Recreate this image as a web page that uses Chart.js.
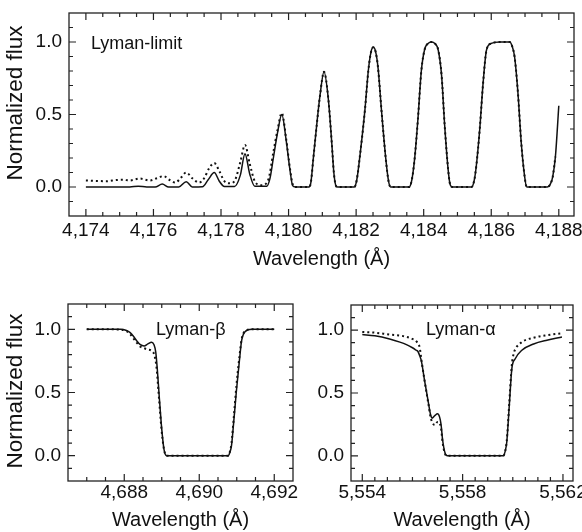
<!DOCTYPE html>
<html>
<head>
<meta charset="utf-8">
<script src="https://cdn.jsdelivr.net/npm/chart.js@4.4.0/dist/chart.umd.min.js"></script>
<style>
  body { margin: 0; background: #fff; }
  #wrap { position: relative; width: 582px; height: 532px; overflow: hidden; }
  canvas { position: absolute; }
</style>
</head>
<body>
<div id="wrap">
  <canvas id="top" width="582" height="280" style="left:0;top:0"></canvas>
  <canvas id="beta" width="300" height="252" style="left:0;top:280px"></canvas>
  <canvas id="alpha" width="282" height="252" style="left:300px;top:280px"></canvas>
</div>
<script>
// Lyman-limit panel, solid curve
let limitWaveSolid = [4174.0, 4174.5, 4175.0, 4175.3, 4175.55, 4175.8, 4176.05, 4176.26, 4176.45, 4176.75,
    4176.97, 4177.15, 4177.45, 4177.62, 4177.8, 4177.95, 4178.1, 4178.4, 4178.57, 4178.71,
    4178.85, 4179.0, 4179.35, 4179.45, 4179.55, 4179.67, 4179.8, 4179.93, 4180.04, 4180.12,
    4180.2, 4180.6, 4180.66, 4180.73, 4180.83, 4180.93, 4181.05, 4181.18, 4181.28, 4181.34,
    4181.4, 4181.45, 4181.95, 4182.02, 4182.11, 4182.26, 4182.36, 4182.44, 4182.51, 4182.58,
    4182.65, 4182.75, 4182.88, 4182.96, 4183.02, 4183.57, 4183.65, 4183.73, 4183.83, 4183.93,
    4184.03, 4184.13, 4184.23, 4184.33, 4184.43, 4184.53, 4184.62, 4184.72, 4184.78, 4184.85,
    4185.42, 4185.5, 4185.56, 4185.66, 4185.76, 4185.86, 4186.0, 4186.25, 4186.55, 4186.62,
    4186.69, 4186.79, 4186.89, 4186.99, 4187.05, 4187.66, 4187.75, 4187.82, 4187.9, 4188.0];
let limitFluxSolid = [0, 0, 0, 0, 0.006, 0, 0, 0.02, 0, 0,
    0.037, 0, 0.002, 0.05, 0.1, 0.04, 0.003, 0.003, 0.08, 0.23,
    0.09, 0.005, 0.005, 0.06, 0.2, 0.37, 0.5, 0.32, 0.12, 0.01,
    0, 0, 0.03, 0.19, 0.42, 0.63, 0.795, 0.6, 0.3, 0.1,
    0.01, 0, 0, 0.05, 0.21, 0.53, 0.8, 0.93, 0.963, 0.93,
    0.82, 0.53, 0.19, 0.04, 0, 0, 0.05, 0.19, 0.47, 0.8,
    0.95, 0.99, 1.0, 0.99, 0.945, 0.77, 0.43, 0.13, 0.02, 0,
    0, 0.05, 0.15, 0.4, 0.72, 0.945, 0.99, 1.0, 1.0, 0.97,
    0.9, 0.65, 0.3, 0.07, 0, 0, 0.02, 0.07, 0.21, 0.56];

// Lyman-limit panel, dotted curve
let limitWaveDot = [4174.0, 4174.3, 4174.6, 4174.9, 4175.1, 4175.3, 4175.6, 4175.9, 4176.1, 4176.3,
    4176.5, 4176.65, 4176.8, 4176.97, 4177.15, 4177.35, 4177.5, 4177.65, 4177.8, 4177.95,
    4178.1, 4178.27, 4178.42, 4178.57, 4178.71, 4178.85, 4179.0, 4179.2, 4179.4, 4179.55,
    4179.67, 4179.8, 4179.93, 4180.04, 4180.12, 4180.2, 4180.6, 4180.66, 4180.73, 4180.83,
    4180.93, 4181.05, 4181.18, 4181.28, 4181.34, 4181.4, 4181.45, 4181.95, 4182.02, 4182.11,
    4182.26, 4182.36, 4182.44, 4182.51, 4182.58, 4182.65, 4182.75, 4182.88, 4182.96, 4183.02,
    4183.57, 4183.65, 4183.73, 4183.83, 4183.93, 4184.03, 4184.13, 4184.23, 4184.33, 4184.43,
    4184.53, 4184.62, 4184.72, 4184.78, 4184.85, 4185.42, 4185.5, 4185.56, 4185.66, 4185.76,
    4185.86, 4186.0, 4186.25, 4186.55, 4186.62, 4186.69, 4186.79, 4186.89, 4186.99, 4187.05,
    4187.66, 4187.75, 4187.82, 4187.9];
let limitFluxDot = [0.045, 0.042, 0.04, 0.048, 0.05, 0.045, 0.058, 0.045, 0.06, 0.075,
    0.045, 0.03, 0.06, 0.1, 0.06, 0.03, 0.06, 0.13, 0.165, 0.11,
    0.04, 0.025, 0.05, 0.17, 0.29, 0.16, 0.04, 0.012, 0.05, 0.24,
    0.39, 0.51, 0.33, 0.13, 0.02, 0, 0, 0.03, 0.19, 0.42,
    0.63, 0.795, 0.6, 0.3, 0.1, 0.01, 0, 0, 0.05, 0.21,
    0.53, 0.8, 0.93, 0.963, 0.93, 0.82, 0.53, 0.19, 0.04, 0,
    0, 0.05, 0.19, 0.47, 0.8, 0.95, 0.99, 1.0, 0.99, 0.945,
    0.77, 0.43, 0.13, 0.02, 0, 0, 0.05, 0.15, 0.4, 0.72,
    0.945, 0.99, 1.0, 1.0, 0.97, 0.9, 0.65, 0.3, 0.07, 0,
    0, 0.02, 0.07, 0.21];

// Lyman-beta panel
let betaWaveSolid = [4687.0, 4687.5, 4687.9, 4688.06, 4688.15, 4688.24, 4688.33, 4688.42, 4688.53, 4688.63,
    4688.73, 4688.79, 4688.84, 4688.88, 4688.93, 4689.0, 4689.06, 4689.13, 4690.0, 4690.77,
    4690.82, 4690.86, 4690.92, 4690.99, 4691.07, 4691.13, 4691.22, 4691.4, 4692.0];
let betaFluxSolid = [1.0, 1.0, 1.0, 0.99, 0.975, 0.947, 0.91, 0.88, 0.867, 0.885,
    0.898, 0.88, 0.82, 0.69, 0.48, 0.21, 0.05, 0, 0, 0,
    0.03, 0.08, 0.27, 0.51, 0.75, 0.91, 0.98, 1.0, 1.0];
let betaWaveDot = [4687.0, 4687.5, 4687.9, 4688.06, 4688.15, 4688.24, 4688.33, 4688.42, 4688.53, 4688.63,
    4688.73, 4688.8, 4688.86, 4688.92, 4688.99, 4689.06, 4689.13, 4690.77, 4690.82, 4690.86,
    4690.92, 4690.99, 4691.07, 4691.13, 4691.22, 4691.4, 4692.0];
let betaFluxDot = [1.0, 1.0, 0.997, 0.985, 0.965, 0.93, 0.895, 0.865, 0.85, 0.84,
    0.83, 0.8, 0.7, 0.48, 0.22, 0.05, 0, 0, 0.035, 0.1,
    0.3, 0.55, 0.78, 0.92, 0.985, 1.0, 1.0];

// Lyman-alpha panel
let alphaWaveSolid = [5554.0, 5554.5, 5555.09, 5555.5, 5555.76, 5556.0, 5556.15, 5556.22, 5556.3, 5556.36,
    5556.49, 5556.63, 5556.72, 5556.78, 5556.89, 5557.0, 5557.08, 5557.14, 5557.2, 5557.29,
    5557.39, 5559.62, 5559.7, 5559.76, 5559.86, 5559.96, 5560.09, 5560.36, 5560.83, 5561.36, 5561.96];
let alphaFluxSolid = [0.965, 0.955, 0.93, 0.905, 0.885, 0.86, 0.84, 0.83, 0.79, 0.75,
    0.59, 0.43, 0.33, 0.3, 0.32, 0.335, 0.31, 0.25, 0.13, 0.03,
    0, 0, 0.04, 0.11, 0.4, 0.69, 0.77, 0.84, 0.89, 0.92, 0.945];
let alphaWaveDot = [5554.0, 5554.5, 5555.09, 5555.5, 5555.76, 5556.0, 5556.16, 5556.29, 5556.36, 5556.49,
    5556.63, 5556.72, 5556.78, 5556.89, 5557.0, 5557.08, 5557.14, 5557.2, 5557.29, 5557.39,
    5559.62, 5559.7, 5559.76, 5559.86, 5559.96, 5560.03, 5560.09, 5560.36, 5560.83, 5561.36, 5561.96];
let alphaFluxDot = [0.985, 0.98, 0.965, 0.957, 0.947, 0.93, 0.91, 0.86, 0.76, 0.59,
    0.42, 0.31, 0.27, 0.245, 0.27, 0.26, 0.22, 0.11, 0.02, 0,
    0, 0.04, 0.12, 0.42, 0.72, 0.81, 0.845, 0.905, 0.94, 0.96, 0.975];

// tick labels
let limitTicks = [4174, 4176, 4178, 4180, 4182, 4184, 4186, 4188];
let betaTicks = [4688, 4690, 4692];
let alphaTicks = [5554, 5558, 5562];
let fluxTicks = [0, 0.5, 1.0];

const ink = "#111";
const fontName = "'Liberation Sans', Arial, sans-serif";

let range = (a, b, step) => {
    let out = [];
    for (let v = a; v <= b + 1e-9; v += step) out.push(Math.round(v * 100) / 100);
    return out;
};

let toPoints = (xs, ys) => xs.map((x, i) => ({ x: x, y: ys[i] }));

// frame box with inward ticks on all four sides, panel label and y title
const framePlugin = {
    id: "frame",
    afterDraw(chart, args, opts) {
        const { ctx, chartArea: a, scales } = chart;
        const xs = scales.x, ys = scales.y;
        ctx.save();
        ctx.strokeStyle = "#222";
        ctx.lineWidth = 1.3;
        ctx.strokeRect(a.left, a.top, a.right - a.left, a.bottom - a.top);
        ctx.lineWidth = 1.2;
        ctx.beginPath();
        opts.xMinor.forEach(v => {
            let px = xs.getPixelForValue(v);
            let len = opts.xMajor.includes(v) ? 7 : 4;
            ctx.moveTo(px, a.bottom); ctx.lineTo(px, a.bottom - len);
            ctx.moveTo(px, a.top); ctx.lineTo(px, a.top + len);
        });
        opts.yMinor.forEach(v => {
            let py = ys.getPixelForValue(v);
            let len = fluxTicks.includes(v) ? 7 : 4;
            ctx.moveTo(a.left, py); ctx.lineTo(a.left + len, py);
            ctx.moveTo(a.right, py); ctx.lineTo(a.right - len, py);
        });
        ctx.stroke();

        ctx.fillStyle = ink;
        ctx.font = "18px " + fontName;
        ctx.textBaseline = "middle";
        ctx.fillText(opts.label, opts.labelX, opts.labelY);

        if (opts.yTitle) {
            ctx.translate(16, opts.yTitleY);
            ctx.rotate(-Math.PI / 2);
            ctx.font = "22.5px " + fontName;
            ctx.textAlign = "center";
            ctx.fillText("Normalized flux", 0, 0);
        }
        ctx.restore();
    }
};

let makeChart = (id, cfg) => {
    return new Chart(document.getElementById(id), {
        type: "line",
        data: {
            datasets: [
                {
                    data: toPoints(cfg.waveSolid, cfg.fluxSolid),
                    borderColor: ink,
                    borderWidth: 1.5,
                    pointRadius: 0,
                    cubicInterpolationMode: "monotone",
                },
                {
                    data: toPoints(cfg.waveDot, cfg.fluxDot),
                    borderColor: ink,
                    borderWidth: 2,
                    borderDash: [2, 3],
                    pointRadius: 0,
                    cubicInterpolationMode: "monotone",
                },
            ]
        },
        options: {
            responsive: false,
            animation: false,
            layout: { padding: { top: cfg.padTop, right: cfg.padRight, left: 0, bottom: 0 } },
            plugins: {
                legend: { display: false },
                tooltip: { enabled: false },
                frame: {
                    label: cfg.label, labelX: cfg.labelX, labelY: cfg.labelY,
                    yTitle: cfg.yTitle, yTitleY: cfg.yTitleY,
                    xMajor: cfg.xTicks, xMinor: cfg.xMinor, yMinor: range(-0.1, 1.1, 0.1),
                },
            },
            scales: {
                x: {
                    type: "linear",
                    min: cfg.xMin,
                    max: cfg.xMax,
                    grid: { display: false, drawTicks: false },
                    border: { display: false },
                    ticks: {
                        color: ink,
                        font: { family: fontName, size: 19 },
                        padding: cfg.xTickPad,
                        maxRotation: 0,
                        autoSkip: false,
                        callback: (v) => v.toLocaleString("en-US"),
                    },
                    title: {
                        display: true,
                        text: "Wavelength (Å)",
                        color: ink,
                        font: { family: fontName, size: 20 },
                        padding: { top: 0, bottom: cfg.titlePad },
                    },
                    afterBuildTicks: (s) => { s.ticks = cfg.xTicks.map(v => ({ value: v })); },
                    afterFit: (s) => { s.height = cfg.xAxisH; s.paddingLeft = 0; s.paddingRight = 0; },
                },
                y: {
                    min: -0.2,
                    max: 1.2,
                    grid: { display: false, drawTicks: false },
                    border: { display: false },
                    ticks: {
                        color: ink,
                        font: { family: fontName, size: 19 },
                        padding: 7,
                        callback: (v) => v.toFixed(1),
                    },
                    afterBuildTicks: (s) => { s.ticks = fluxTicks.map(v => ({ value: v })); },
                    afterFit: (s) => { s.width = cfg.yAxisW; s.paddingTop = 0; s.paddingBottom = 0; },
                }
            }
        },
        plugins: [framePlugin]
    });
};

makeChart("top", {
    waveSolid: limitWaveSolid, fluxSolid: limitFluxSolid,
    waveDot: limitWaveDot, fluxDot: limitFluxDot,
    xMin: 4173.5, xMax: 4188.45, xTicks: limitTicks, xMinor: range(4174, 4188, 0.5),
    padTop: 13, padRight: 8, yAxisW: 69, xAxisH: 64, xTickPad: 3, titlePad: 9,
    yTitle: true, yTitleY: 103, label: "Lyman-limit", labelX: 91, labelY: 44,
});

makeChart("beta", {
    waveSolid: betaWaveSolid, fluxSolid: betaFluxSolid,
    waveDot: betaWaveDot, fluxDot: betaFluxDot,
    xMin: 4686.5, xMax: 4692.5, xTicks: betaTicks, xMinor: range(4687, 4692, 0.5),
    padTop: 24, padRight: 7, yAxisW: 68, xAxisH: 51, xTickPad: 0, titlePad: 0,
    yTitle: true, yTitleY: 111, label: "Lyman-β", labelX: 156, labelY: 50,
});

makeChart("alpha", {
    waveSolid: alphaWaveSolid, fluxSolid: alphaFluxSolid,
    waveDot: alphaWaveDot, fluxDot: alphaFluxDot,
    xMin: 5553.55, xMax: 5562.4, xTicks: alphaTicks, xMinor: range(5554, 5562, 0.5),
    padTop: 25, padRight: 9, yAxisW: 51, xAxisH: 51, xTickPad: 0, titlePad: 0,
    yTitle: false, label: "Lyman-α", labelX: 126, labelY: 50,
});
</script>
</body>
</html>
